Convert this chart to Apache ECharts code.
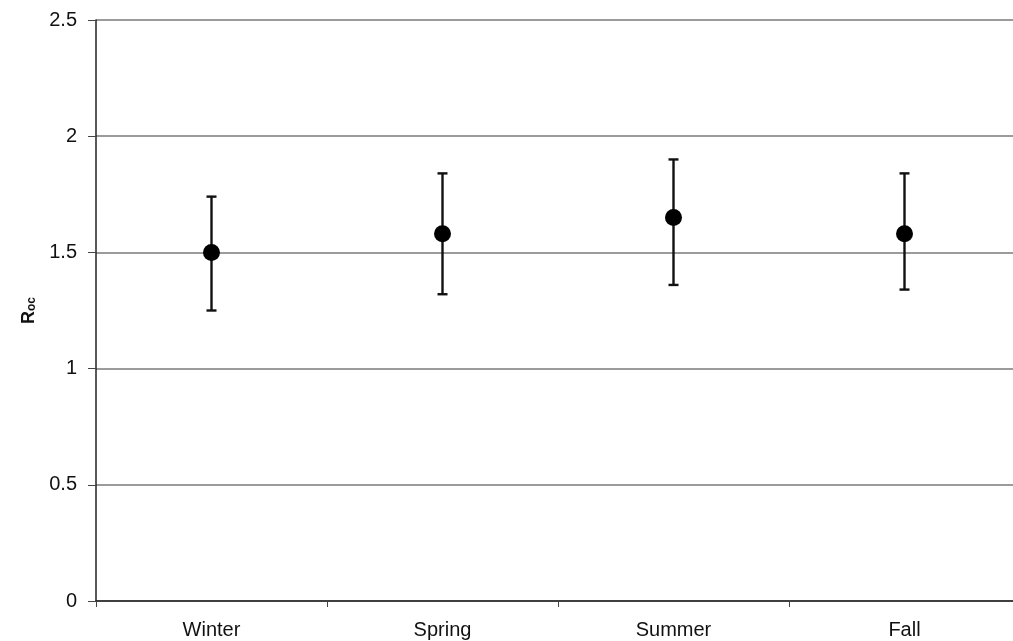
<!DOCTYPE html>
<html>
<head>
<meta charset="utf-8">
<script src="https://cdn.jsdelivr.net/npm/echarts@6/dist/echarts.min.js"></script>
<style>html,body{margin:0;padding:0;background:#fff;overflow:hidden;}#c{width:1013px;height:641px;}</style>
</head>
<body>
<div id="c"></div>
<script>
const categories = ['Winter', 'Spring', 'Summer', 'Fall'];
const meanValues = [1.50, 1.58, 1.65, 1.58];
const lowValues = [1.25, 1.32, 1.36, 1.34];
const highValues = [1.74, 1.84, 1.90, 1.84];
const yTicks = [0, 0.5, 1, 1.5, 2, 2.5];

const chart = echarts.init(document.getElementById('c'));
const errData = categories.map((c, i) => [i, lowValues[i], highValues[i]]);
chart.setOption({
  animation: false,
  backgroundColor: '#fff',
  grid: { left: 96, top: 20, width: 924, bottom: 40, containLabel: false, outerBoundsMode: 'none' },
  xAxis: {
    type: 'category',
    data: categories,
    boundaryGap: true,
    axisLine: { lineStyle: { color: '#222', width: 1.5 } },
    axisTick: { show: true, interval: 0, length: 6, lineStyle: { color: '#444', width: 1 } },
    axisLabel: { fontFamily: 'Liberation Sans, Arial', fontSize: 20, color: '#111', margin: 19 },
    splitLine: { show: false }
  },
  yAxis: {
    type: 'value',
    min: yTicks[0],
    max: yTicks[yTicks.length - 1],
    interval: 0.5,
    name: '{a|R}{b|oc}',
    nameLocation: 'middle',
    nameRotate: 90,
    nameGap: 58,
    nameTextStyle: {
      rich: {
        a: { fontFamily: 'Liberation Sans, Arial', fontWeight: 'bold', fontSize: 18, color: '#111', verticalAlign: 'bottom', lineHeight: 20 },
        b: { fontFamily: 'Liberation Sans, Arial', fontWeight: 'bold', fontSize: 12, color: '#111', verticalAlign: 'bottom', lineHeight: 14 }
      }
    },
    axisLine: { show: true, lineStyle: { color: '#222', width: 1.5 } },
    axisTick: { show: true, length: 8, lineStyle: { color: '#444', width: 1 } },
    axisLabel: {
      fontFamily: 'Liberation Sans, Arial', fontSize: 20, color: '#111', margin: 19,
      formatter: v => String(v)
    },
    splitLine: { show: true, lineStyle: { color: '#7a7a7a', width: 1.5 } }
  },
  series: [
    {
      type: 'custom',
      data: errData,
      renderItem: function (params, api) {
        const x = api.value(0);
        const lo = api.coord([x, api.value(1)]);
        const hi = api.coord([x, api.value(2)]);
        const cap = 5;
        const style = { stroke: '#111', lineWidth: 2.4, fill: null };
        return {
          type: 'group',
          children: [
            { type: 'line', shape: { x1: hi[0], y1: hi[1], x2: lo[0], y2: lo[1] }, style: style },
            { type: 'line', shape: { x1: hi[0] - cap, y1: hi[1], x2: hi[0] + cap, y2: hi[1] }, style: style },
            { type: 'line', shape: { x1: lo[0] - cap, y1: lo[1], x2: lo[0] + cap, y2: lo[1] }, style: style }
          ]
        };
      },
      z: 3
    },
    {
      type: 'scatter',
      data: meanValues,
      symbol: 'circle',
      symbolSize: 17,
      itemStyle: { color: '#000', opacity: 1 },
      z: 4
    }
  ]
});
</script>
</body>
</html>
